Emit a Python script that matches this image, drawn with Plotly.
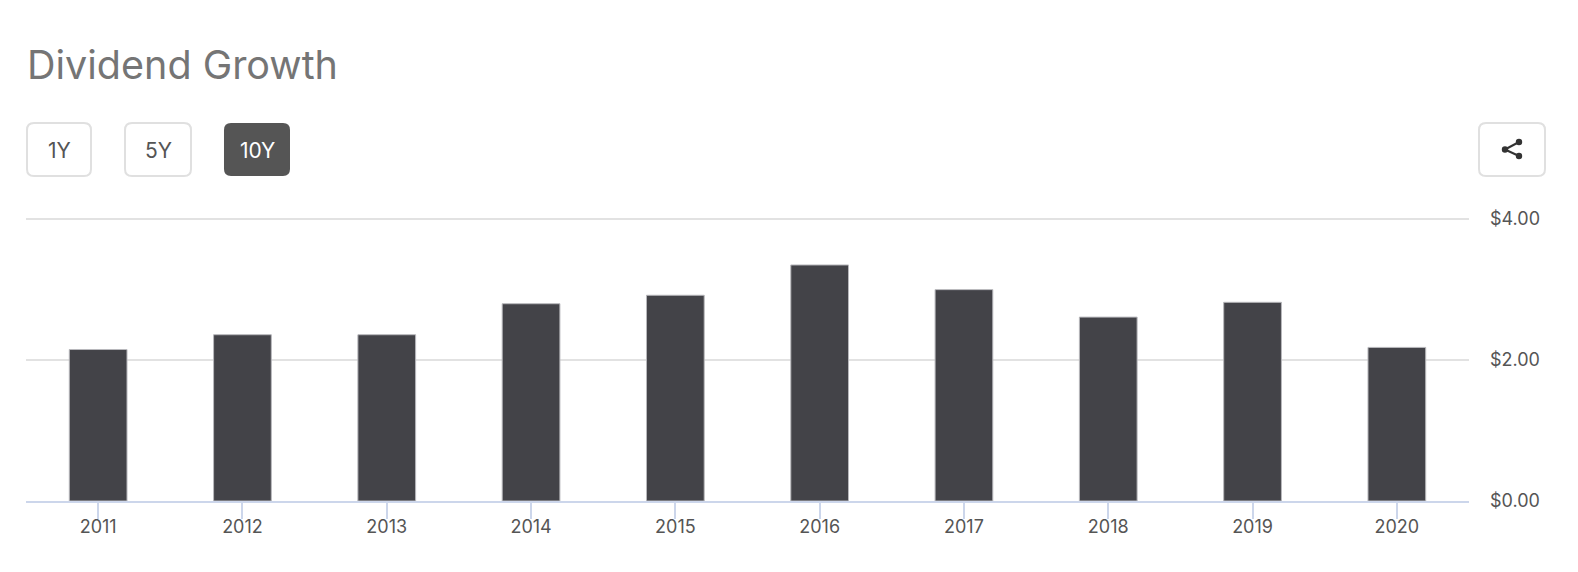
import plotly.graph_objects as go

years = ["2011", "2012", "2013", "2014", "2015", "2016", "2017", "2018", "2019", "2020"]
dividends = [2.15, 2.36, 2.36, 2.80, 2.92, 3.35, 3.00, 2.61, 2.82, 2.18]
y_ticks = [0, 2, 4]
y_tick_labels = ["$0.00", "$2.00", "$4.00"]
range_buttons = ["1Y", "5Y", "10Y"]

W, H = 1578, 572
LEFT, RIGHT, TOP, BOTTOM = 26, 109, 216, 71
FONT = "Inter"


def px_x(x):
    return (x - LEFT) / (W - LEFT - RIGHT)


def px_y(y):
    return (H - BOTTOM - y) / (H - TOP - BOTTOM)


def round_rect(x0, y0, x1, y1, r):
    # rounded box as svg path, pixel input -> paper coords
    pts = [
        ("M", x0 + r, y0), ("L", x1 - r, y0), ("Q", x1, y0, x1, y0 + r),
        ("L", x1, y1 - r), ("Q", x1, y1, x1 - r, y1), ("L", x0 + r, y1),
        ("Q", x0, y1, x0, y1 - r), ("L", x0, y0 + r), ("Q", x0, y0, x0 + r, y0),
    ]
    out = ""
    for p in pts:
        coords = []
        for i in range(1, len(p), 2):
            coords.append(f"{px_x(p[i]):.5f},{px_y(p[i + 1]):.5f}")
        out += p[0] + " ".join(coords) + " "
    return out + "Z"


def add_box(fig, x0, x1, fill, line_color, line_width):
    fig.add_shape(type="path", xref="paper", yref="paper", layer="above",
                  path=round_rect(x0, 123, x1, 176, 7),
                  fillcolor=fill, line=dict(color=line_color, width=line_width))


def add_text(fig, x, y, text, size, color, anchor="center"):
    fig.add_annotation(x=px_x(x), y=px_y(y), xref="paper", yref="paper", text=text,
                       showarrow=False, xanchor=anchor, yanchor="middle",
                       font=dict(family=FONT, size=size, color=color))


fig = go.Figure()
fig.add_trace(go.Bar(x=years, y=dividends, marker=dict(color="#434348", line=dict(color="#b8b8bc", width=1))))

fig.update_layout(
    width=W, height=H,
    margin=dict(l=LEFT, r=RIGHT, t=TOP, b=BOTTOM, pad=0),
    paper_bgcolor="white", plot_bgcolor="white",
    bargap=0.6, showlegend=False,
    font=dict(family=FONT, size=18, color="#555555"),
)
fig.update_xaxes(type="category", showline=True, linecolor="#ccd6eb", linewidth=2,
                 ticks="outside", ticklen=16, tickcolor="#ccd6eb", tickwidth=2, showgrid=False,
                 ticklabelstandoff=-8, tickfont=dict(size=18, color="#555555"))
# top of range a bit over 4 so the $4.00 gridline is not dropped at the edge
fig.update_yaxes(side="right", range=[0, 4.045], tickvals=y_ticks, ticktext=y_tick_labels,
                 gridcolor="#e2e2e2", gridwidth=2, zeroline=False, showline=False,
                 ticks="", ticklabelstandoff=20, tickfont=dict(size=18, color="#555555"))

add_text(fig, 24.5, 65, "Dividend Growth", 39.5, "#757575", "left")

for label, x0, x1 in zip(range_buttons, [27, 125, 224], [91, 191, 290]):
    selected = label == "10Y"
    add_box(fig, x0, x1, "#555555" if selected else "white", "#e0e0e0", 0 if selected else 2)
    add_text(fig, (x0 + x1) / 2, 150, label, 21, "white" if selected else "#555555")

# share button
add_box(fig, 1479, 1545, "white", "#e0e0e0", 2)
for a, b in [((1505, 149.5), (1519, 142)), ((1505, 149.5), (1519, 156))]:
    fig.add_shape(type="line", xref="paper", yref="paper", layer="above",
                  x0=px_x(a[0]), y0=px_y(a[1]), x1=px_x(b[0]), y1=px_y(b[1]),
                  line=dict(color="#333333", width=2))
for cx, cy in [(1505, 149.5), (1519, 142), (1519, 156)]:
    fig.add_shape(type="circle", xref="paper", yref="paper", layer="above",
                  x0=px_x(cx - 3.2), x1=px_x(cx + 3.2), y0=px_y(cy + 3.2), y1=px_y(cy - 3.2),
                  fillcolor="#333333", line=dict(width=0))

fig.write_html("out.html", config=dict(displayModeBar=False),
               post_script="document.body.style.margin='0';")
